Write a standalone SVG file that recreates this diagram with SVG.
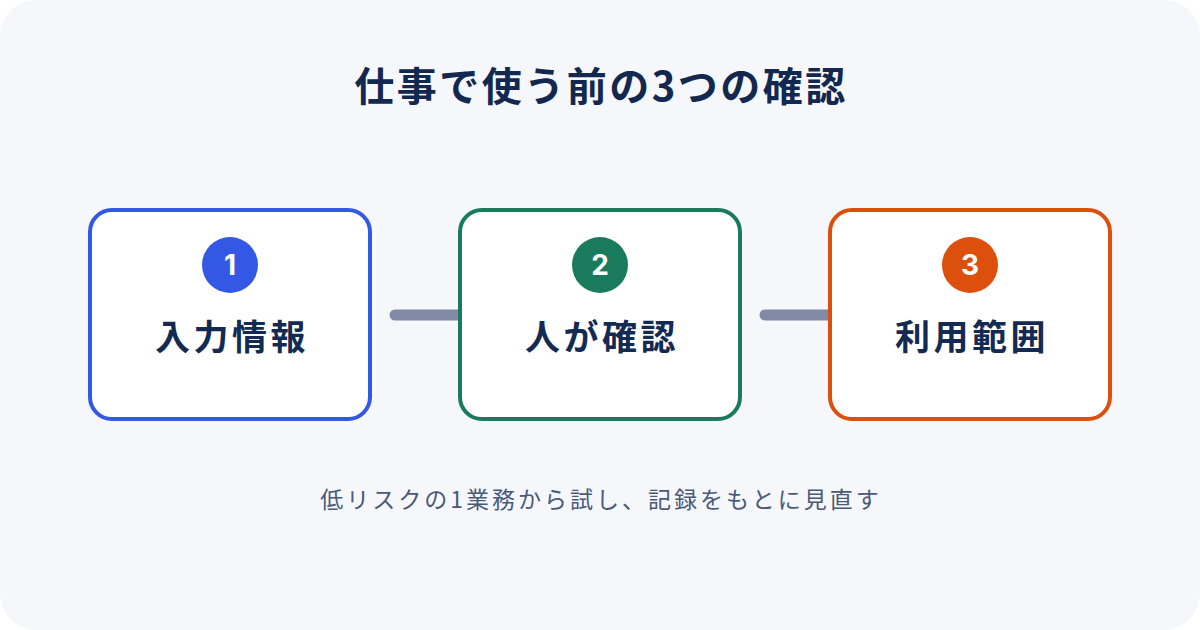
<svg xmlns="http://www.w3.org/2000/svg" width="1200" height="630" viewBox="0 0 1200 630">
<style>
.card{fill:#ffffff;stroke-width:4}
.num{font-family:"Inter","Noto Sans","Liberation Sans",sans-serif;font-weight:700;font-size:28px;fill:#ffffff;text-anchor:middle}
.lbl{font-family:"Noto Sans CJK JP",sans-serif;font-weight:700;font-size:35px;letter-spacing:3.5px;fill:#132a52;text-anchor:middle}
.conn{stroke:#818ba8;stroke-width:11;stroke-linecap:round;fill:none}
</style>
<rect x="0" y="0" width="1200" height="630" rx="36" fill="#f5f7fb"/>
<text x="601" y="101" font-family="'Noto Sans CJK JP',sans-serif" font-weight="700" font-size="40" letter-spacing="2.5" fill="#13284f" text-anchor="middle">仕事で使う前の3つの確認</text>
<g id="connectors">
<line class="conn" x1="395" y1="315" x2="459" y2="315"/>
<line class="conn" x1="765" y1="315" x2="829" y2="315"/>
</g>
<g id="node1">
<rect class="card" x="90" y="210" width="280" height="209" rx="22" stroke="#3358e6"/>
<circle cx="230" cy="265" r="28" fill="#3358e6"/>
<text class="num" x="230" y="275">1</text>
<text class="lbl" x="232" y="350">入力情報</text>
</g>
<g id="node2">
<rect class="card" x="460" y="210" width="280" height="209" rx="22" stroke="#1a7a5c"/>
<circle cx="600" cy="265" r="28" fill="#1a7a5c"/>
<text class="num" x="600" y="275">2</text>
<text class="lbl" x="602" y="350">人が確認</text>
</g>
<g id="node3">
<rect class="card" x="830" y="210" width="280" height="209" rx="22" stroke="#dc4f0c"/>
<circle cx="970" cy="265" r="28" fill="#dc4f0c"/>
<text class="num" x="970" y="275">3</text>
<text class="lbl" x="972" y="350">利用範囲</text>
</g>
<text x="601" y="508" font-family="'Noto Sans CJK JP',sans-serif" font-size="23" letter-spacing="3" fill="#4a5a7a" text-anchor="middle">低リスクの1業務から試し、記録をもとに見直す</text>
</svg>
